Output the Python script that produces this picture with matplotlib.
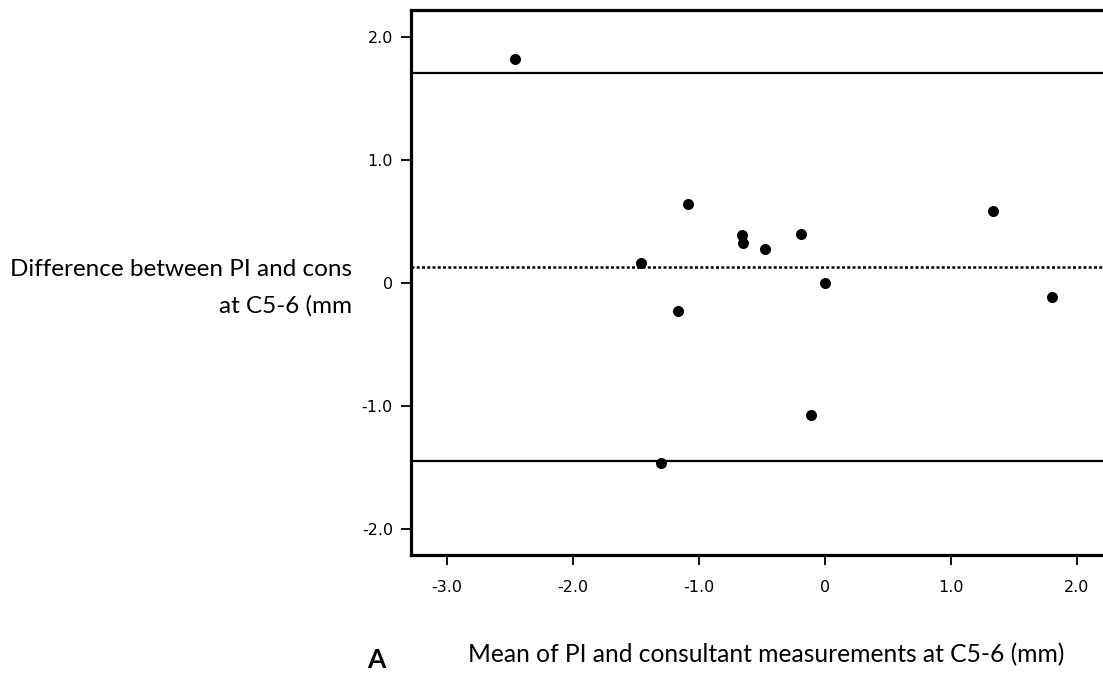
import numpy as np
import matplotlib
matplotlib.use("Agg")
import matplotlib.pyplot as plt

# Bland-Altman data
mean_vals = [-2.46, -1.46, -1.09, -1.17, -0.66, -0.65, -0.48, -0.19, 0.0, -0.11, -1.30, 1.33, 1.80]
diff_vals = [1.82, 0.16, 0.64, -0.23, 0.39, 0.33, 0.28, 0.40, 0.0, -1.07, -1.46, 0.585, -0.11]
bias = 0.13
upper_loa = 1.707
lower_loa = -1.447

xticks = [-3, -2, -1, 0, 1, 2]
xtick_labels = ["-3.0", "-2.0", "-1.0", "0", "1.0", "2.0"]
yticks = [2, 1, 0, -1, -2]
ytick_labels = ["2.0", "1.0", "0", "-1.0", "-2.0"]

W, H = 1103, 675
fig = plt.figure(figsize=(W / 100, H / 100), dpi=100)

# axes run off the right edge of the figure like in the original
x0, x1 = -3.286, 2.6
px_per_x = 126
ax = fig.add_axes([411 / W, 120 / H, (x1 - x0) * px_per_x / W, 545 / H])

ax.scatter(mean_vals, diff_vals, s=48, color="black", zorder=3)
ax.axhline(upper_loa, color="black", lw=1.6)
ax.axhline(lower_loa, color="black", lw=1.6)
ax.axhline(bias, color="black", lw=1.8, linestyle=(0, (1.2, 0.9)))

ax.set_xlim(x0, x1)
ax.set_ylim(-2.21, 2.22)
ax.set_xticks(xticks)
ax.set_xticklabels(xtick_labels)
ax.set_yticks(yticks)
ax.set_yticklabels(ytick_labels)
ax.tick_params(axis="x", length=7, width=1.3, pad=11, labelsize=11.5)
ax.tick_params(axis="y", length=7, width=1.3, pad=6, labelsize=11.5)
for sp in ax.spines.values():
    sp.set_linewidth(2.3)

lab_font = "Lato"
fig.text(352 / W, 1 - 270 / H, "Difference between PI and cons", ha="right", va="center",
         fontsize=17.5, family=lab_font)
fig.text(352 / W, 1 - 306 / H, "at C5-6 (mm", ha="right", va="center",
         fontsize=17.5, family=lab_font)
fig.text(766 / W, 1 - 655 / H, "Mean of PI and consultant measurements at C5-6 (mm)",
         ha="center", va="center", fontsize=17.7, family=lab_font)
fig.text(376 / W, 3 / H, "A", ha="center", va="bottom", fontsize=19,
         fontweight="bold", family=lab_font)

fig.savefig("out.png", dpi=100)
